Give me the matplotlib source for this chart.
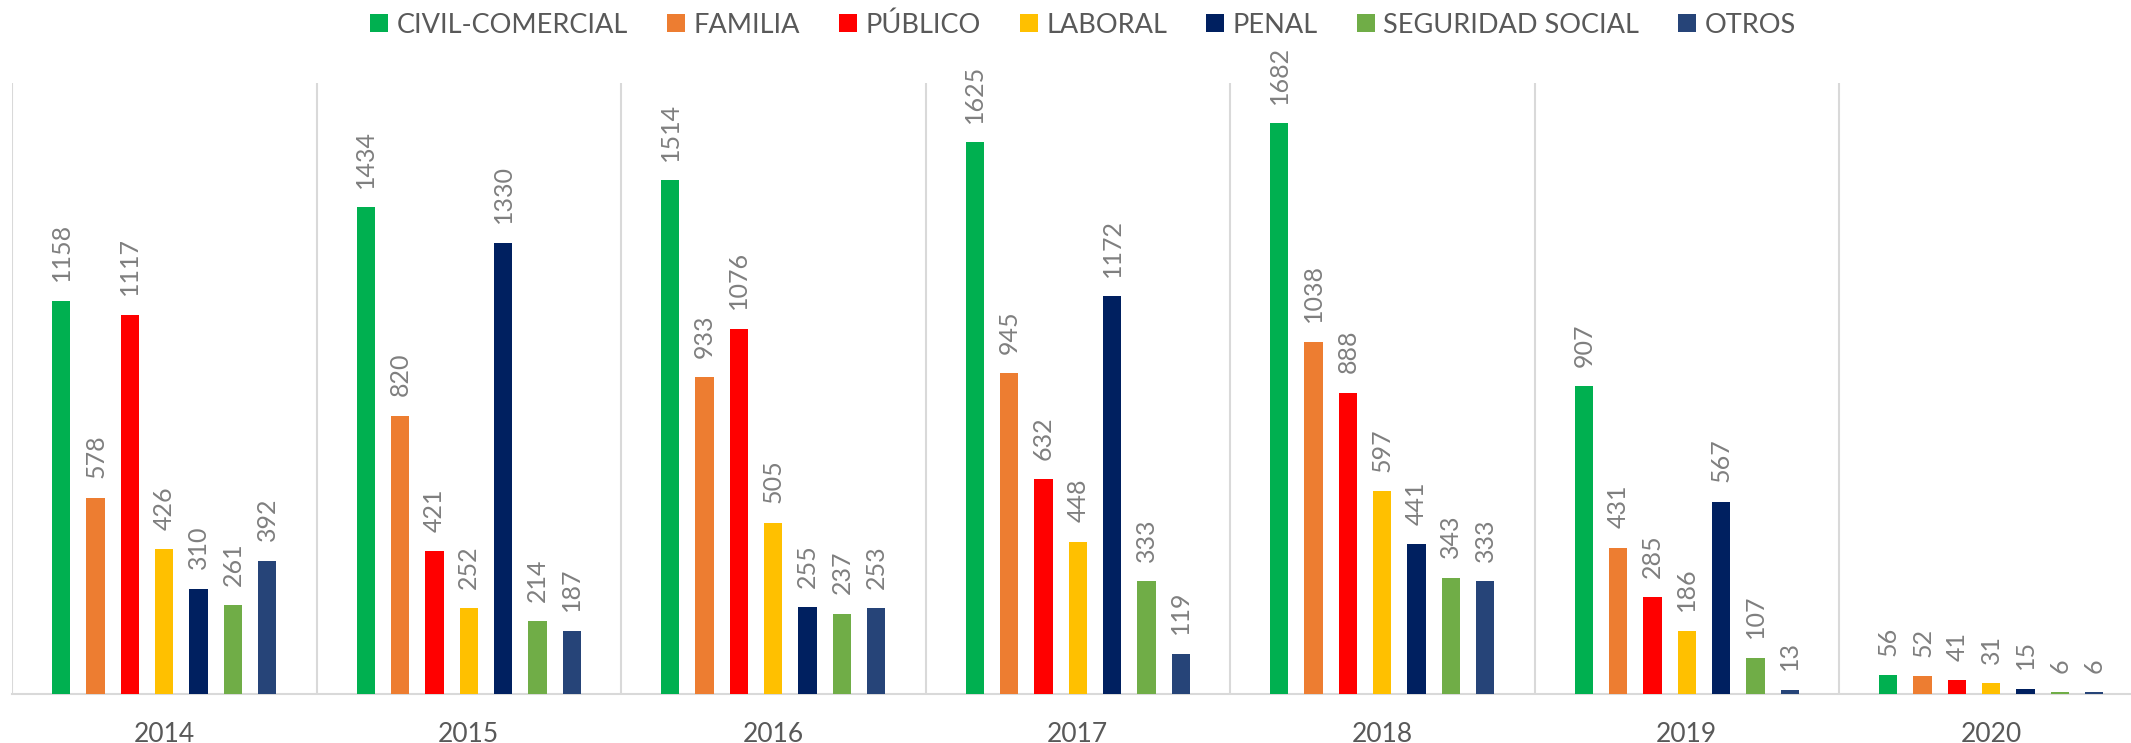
import numpy as np
import matplotlib
matplotlib.use("Agg")
import matplotlib.pyplot as plt
from matplotlib.patches import Patch

plt.rcParams['font.family'] = ['Lato', 'DejaVu Sans']

years = ['2014', '2015', '2016', '2017', '2018', '2019', '2020']
series = ['CIVIL-COMERCIAL', 'FAMILIA', 'PÚBLICO', 'LABORAL', 'PENAL', 'SEGURIDAD SOCIAL', 'OTROS']
colors = ['#00B050', '#ED7D31', '#FF0000', '#FFC000', '#002060', '#70AD47', '#264478']

civil = [1158, 1434, 1514, 1625, 1682, 907, 56]
familia = [578, 820, 933, 945, 1038, 431, 52]
publico = [1117, 421, 1076, 632, 888, 285, 41]
laboral = [426, 252, 505, 448, 597, 186, 31]
penal = [310, 1330, 255, 1172, 441, 567, 15]
seguridad = [261, 214, 237, 333, 343, 107, 6]
otros = [392, 187, 253, 119, 333, 13, 6]
values = [civil, familia, publico, laboral, penal, seguridad, otros]

W, H = 2131, 743
fig = plt.figure(figsize=(W / 100, H / 100), dpi=100)
# baseline at 694px, top of plot at 83px, last group runs a bit past the right edge
ax = fig.add_axes([12 / W, (H - 694) / H, 2131.5 / W, (694 - 83) / H])

x = np.arange(len(years)) + 0.5
slot = 0.1127
bw = 0.06
for i, (name, vals, c) in enumerate(zip(series, values, colors)):
    xs = x + (i - 3) * slot
    ax.bar(xs, vals, width=bw, color=c, zorder=3)
    for xi, v in zip(xs, vals):
        ax.annotate(str(v), (xi, v), xytext=(0, 14), textcoords='offset points',
                    rotation=90, ha='center', va='bottom', fontsize=18, color='#7f7f7f')

ax.set_xlim(0, 7)
ax.set_ylim(0, 1800)
for b in range(8):
    ax.axvline(b, color='#d9d9d9', lw=1.5, zorder=1)
for s in ['top', 'right', 'left']:
    ax.spines[s].set_visible(False)
ax.spines['bottom'].set_color('#d9d9d9')
ax.spines['bottom'].set_linewidth(1.5)
ax.set_yticks([])
ax.set_xticks(x)
ax.set_xticklabels(years, fontsize=19, color='#595959')
ax.tick_params(axis='x', length=0, pad=20)

handles = [Patch(facecolor=c, label=n) for n, c in zip(series, colors)]
fig.legend(handles=handles, loc='center', bbox_to_anchor=(1083 / W, 1 - 25 / H), ncol=7,
           frameon=False, fontsize=19.5, labelcolor='#595959', handlelength=0.67, handleheight=0.67,
           handletextpad=0.3, columnspacing=1.45)

fig.savefig('out.png', dpi=100)
